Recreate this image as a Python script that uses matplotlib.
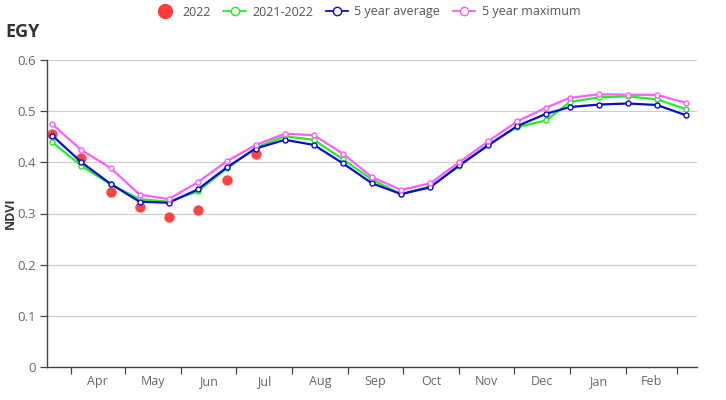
"""NDVI crop-condition profile for EGY, 16-day composites."""

import numpy as np
import matplotlib as mpl
import matplotlib.pyplot as plt
import matplotlib.dates as mdates
from matplotlib.lines import Line2D

mpl.rcParams.update(
    {
        "font.family": ["Open Sans", "DejaVu Sans"],
        "font.size": 9,
    }
)

# 16-day composite dates, one season (dummy year for the axis)
dates = np.array(
    [
        "2021-03-22", "2021-04-07", "2021-04-23", "2021-05-09", "2021-05-25",
        "2021-06-10", "2021-06-26", "2021-07-12", "2021-07-28", "2021-08-13",
        "2021-08-29", "2021-09-14", "2021-09-30", "2021-10-16", "2021-11-01",
        "2021-11-17", "2021-12-03", "2021-12-19", "2022-01-01", "2022-01-17",
        "2022-02-02", "2022-02-18", "2022-03-06",
    ],
    dtype="datetime64[D]",
)

ndvi_2022 = [0.455, 0.408, 0.342, 0.312, 0.293, 0.307, 0.365, 0.416]
ndvi_2021_2022 = [0.439, 0.393, 0.357, 0.328, 0.323, 0.343, 0.388, 0.429, 0.451, 0.444, 0.406, 0.366,
                  0.338, 0.353, 0.392, 0.435, 0.469, 0.482, 0.518, 0.527, 0.529, 0.523, 0.504]
ndvi_5yr_avg = [0.452, 0.400, 0.358, 0.323, 0.321, 0.347, 0.390, 0.427, 0.444, 0.434, 0.398, 0.359,
                0.338, 0.351, 0.394, 0.433, 0.471, 0.495, 0.508, 0.513, 0.515, 0.512, 0.492]
ndvi_5yr_max = [0.474, 0.424, 0.389, 0.337, 0.328, 0.361, 0.402, 0.434, 0.456, 0.453, 0.417, 0.371,
                0.346, 0.359, 0.400, 0.441, 0.480, 0.507, 0.526, 0.533, 0.532, 0.532, 0.516]

month_starts = np.arange("2021-04", "2022-04", dtype="datetime64[M]").astype("datetime64[D]")
month_labels = ["Apr", "May", "Jun", "Jul", "Aug", "Sep", "Oct", "Nov", "Dec", "Jan", "Feb"]

C_RED = "#ff3b3b"
C_GREEN = "#22ee22"
C_BLUE = "#0a0ad0"
C_MAG = "#ff5cff"
C_AXIS = "#444444"
C_TEXT = "#666666"

fig = plt.figure(figsize=(7.26, 4.0), dpi=100)
ax = fig.add_axes([47 / 726, 1 - 367 / 400, (697 - 47) / 726, (367 - 60) / 400])

x = mdates.date2num(dates)

ax.plot(x[: len(ndvi_2022)], ndvi_2022, "o", color=C_RED, ms=7.5, alpha=0.95, zorder=2, mec="none")
mk = dict(marker="o", ms=3.6, mfc="white", mew=1.0, lw=1.6, zorder=3)
ax.plot(x, ndvi_2021_2022, color=C_GREEN, mec=C_GREEN, **mk)
ax.plot(x, ndvi_5yr_avg, color=C_BLUE, mec=C_BLUE, **mk)
ax.plot(x, ndvi_5yr_max, color=C_MAG, mec=C_MAG, **mk)

ax.set_xlim(mdates.date2num(np.datetime64("2021-03-19")), mdates.date2num(np.datetime64("2022-03-12")))
ax.set_ylim(0, 0.6)
ax.set_yticks(np.arange(0, 0.61, 0.1))
ax.set_yticklabels(["0", "0.1", "0.2", "0.3", "0.4", "0.5", "0.6"])
ax.grid(axis="y", color="#cccccc", lw=0.8)
ax.set_axisbelow(True)

mnum = mdates.date2num(month_starts)
ax.set_xticks(mnum)
ax.set_xticklabels([])
ax.set_xticks((mnum[:-1] + mnum[1:]) / 2, minor=True)
ax.set_xticklabels(month_labels, minor=True)
ax.tick_params(axis="x", which="minor", length=0, pad=6, labelcolor=C_TEXT, labelsize=9)
ax.tick_params(axis="x", which="major", length=5, color=C_AXIS, width=0.9)
ax.tick_params(axis="y", length=5, color=C_AXIS, width=0.9, labelcolor=C_TEXT, labelsize=9.5, pad=3)

for side in ("top", "right"):
    ax.spines[side].set_visible(False)
for side in ("left", "bottom"):
    ax.spines[side].set_color(C_AXIS)
    ax.spines[side].set_linewidth(1.0)

fig.text(10 / 726, 1 - 213 / 400, "NDVI", fontweight="bold", color="#333333", fontsize=9,
         rotation=90, ha="center", va="center")
fig.text(5 / 726, 1 - 32 / 400, "EGY", fontsize=13, fontweight="bold", color="#333333", va="center", ha="left")

handles = [
    Line2D([], [], ls="none", marker="o", color=C_RED, ms=11, mec="none"),
    Line2D([], [], color=C_GREEN, marker="o", ms=6, mfc="white", mec=C_GREEN, lw=1.3),
    Line2D([], [], color=C_BLUE, marker="o", ms=6, mfc="white", mec=C_BLUE, lw=1.3),
    Line2D([], [], color=C_MAG, marker="o", ms=6, mfc="white", mec=C_MAG, lw=1.3),
]
leg = fig.legend(
    handles,
    ["2022", "2021-2022", "5 year average", "5 year maximum"],
    loc="center",
    bbox_to_anchor=(367 / 726, 1 - 12 / 400),
    ncol=4,
    frameon=False,
    handlelength=1.8,
    handletextpad=0.5,
    columnspacing=1.0,
    fontsize=9,
)
for t in leg.get_texts():
    t.set_color("#555555")

fig.savefig("out.png", dpi=100)
